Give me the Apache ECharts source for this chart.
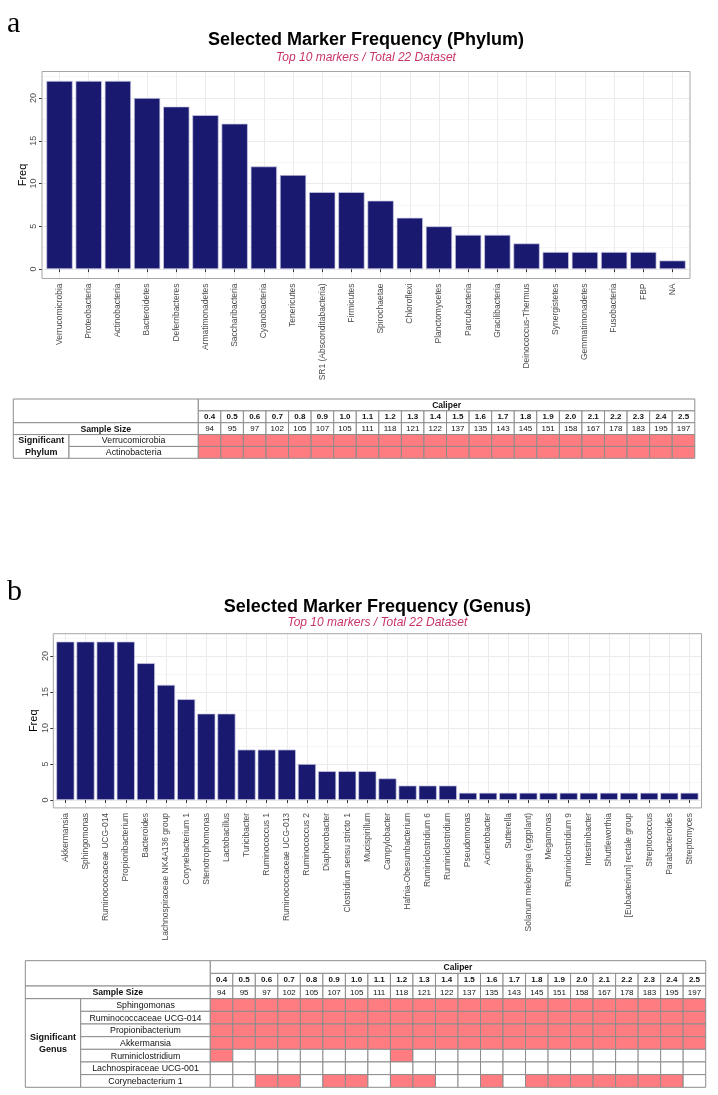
<!DOCTYPE html>
<html><head><meta charset="utf-8">
<script src="https://cdn.jsdelivr.net/npm/echarts@6/dist/echarts.min.js"></script>
<style>html,body{margin:0;padding:0;background:#fff}#c{width:718px;height:1095px}</style>
</head><body><div id="c"></div>
<script>
// ---------- data ----------
const phylumNames = ['Verrucomicrobia','Proteobacteria','Actinobacteria','Bacteroidetes','Deferribacteres','Armatimonadetes','Saccharibacteria','Cyanobacteria','Tenericutes','SR1 (Absconditabacteria)','Firmicutes','Spirochaetae','Chloroflexi','Planctomycetes','Parcubacteria','Gracilibacteria','Deinococcus-Thermus','Synergistetes','Gemmatimonadetes','Fusobacteria','FBP','NA'];
const phylumFreq = [22,22,22,20,19,18,17,12,11,9,9,8,6,5,4,4,3,2,2,2,2,1];
const genusNames = ['Akkermansia','Sphingomonas','Ruminococcaceae UCG-014','Propionibacterium','Bacteroides','Lachnospiraceae NK4A136 group','Corynebacterium 1','Stenotrophomonas','Lactobacillus','Turicibacter','Ruminococcus 1','Ruminococcaceae UCG-013','Ruminococcus 2','Diaphorobacter','Clostridium sensu stricto 1','Mucispirillum','Campylobacter','Hafnia-Obesumbacterium','Ruminiclostridium 6','Ruminiclostridium','Pseudomonas','Acinetobacter','Sutterella','Solanum melongena (eggplant)','Megamonas','Ruminiclostridium 9','Intestinibacter','Shuttleworthia','[Eubacterium] rectale group','Streptococcus','Parabacteroides','Streptomyces'];
const genusFreq = [22,22,22,22,19,16,14,12,12,7,7,7,5,4,4,4,3,2,2,2,1,1,1,1,1,1,1,1,1,1,1,1];
const yTicks = [0,5,10,15,20];
const calipers = ['0.4','0.5','0.6','0.7','0.8','0.9','1.0','1.1','1.2','1.3','1.4','1.5','1.6','1.7','1.8','1.9','2.0','2.1','2.2','2.3','2.4','2.5'];
const sampleSizes = [94,95,97,102,105,107,105,111,118,121,122,137,135,143,145,151,158,167,178,183,195,197];
const phylumSigNames = ['Verrucomicrobia','Actinobacteria'];
const phylumSig = [
  [1,1,1,1,1,1,1,1,1,1,1,1,1,1,1,1,1,1,1,1,1,1],
  [1,1,1,1,1,1,1,1,1,1,1,1,1,1,1,1,1,1,1,1,1,1]
];
const genusSigNames = ['Sphingomonas','Ruminococcaceae UCG-014','Propionibacterium','Akkermansia','Ruminiclostridium','Lachnospiraceae UCG-001','Corynebacterium 1'];
const genusSig = [
  [1,1,1,1,1,1,1,1,1,1,1,1,1,1,1,1,1,1,1,1,1,1],
  [1,1,1,1,1,1,1,1,1,1,1,1,1,1,1,1,1,1,1,1,1,1],
  [1,1,1,1,1,1,1,1,1,1,1,1,1,1,1,1,1,1,1,1,1,1],
  [1,1,1,1,1,1,1,1,1,1,1,1,1,1,1,1,1,1,1,1,1,1],
  [1,0,0,0,0,0,0,0,1,0,0,0,0,0,0,0,0,0,0,0,0,0],
  [0,0,0,0,0,0,0,0,0,0,0,0,0,0,0,0,0,0,0,0,0,0],
  [0,0,1,1,0,1,1,0,1,1,0,0,1,0,1,1,1,1,1,1,1,0]
];

// ---------- layout / style ----------
const FONT = 'Liberation Sans';
const NAVY = '#191970';
const PINK = '#ff7c80';
const LINE = '#8c8c8c';
const FA = {left: 42, top: 71.5, width: 648, height: 207};
const FB = {left: 53.3, top: 633.7, width: 648.2, height: 174.2};
function barGrid(F, n) {
  const u = F.width / (n - 1 + 1.2);
  return {left: F.left + 0.1 * u, top: F.top, width: n * u, height: F.height};
}
const BA = barGrid(FA, phylumNames.length);
const BB = barGrid(FB, genusNames.length);
const TA = {left: 198.3, top: 399, width: 496.5, height: 59.3, labelW: 129.3, groupW: 55.7};
const TB = {left: 210.3, top: 960.7, width: 495.4, height: 126.6, labelW: 129.6, groupW: 55.4};

function frameGrid(F) {
  return Object.assign({show: true, borderColor: '#a6a6a6', borderWidth: 1, backgroundColor: 'transparent', z: 5,
    containLabel: false, outerBoundsMode: 'none'}, {left: F.left, top: F.top, width: F.width, height: F.height});
}
function plainGrid(B) {
  return Object.assign({show: false, containLabel: false, outerBoundsMode: 'none'}, {left: B.left, top: B.top, width: B.width, height: B.height});
}

function frameY(gi, margin) {
  return {
    gridIndex: gi, type: 'value', min: -1.1, max: 23.1, splitNumber: 5,
    name: 'Freq', nameLocation: 'middle', nameGap: 14, nameRotate: 90, nameMoveOverlap: false,
    nameTextStyle: {fontSize: 11, color: '#000', fontFamily: FONT},
    axisLine: {show: false},
    axisTick: {show: true, length: 3, lineStyle: {color: '#333'}, customValues: yTicks},
    axisLabel: {show: true, customValues: yTicks, rotate: 90, align: 'center', verticalAlign: 'bottom', margin: margin,
      fontSize: 9, color: '#4d4d4d', fontFamily: FONT,
      formatter: v => (yTicks.indexOf(v) >= 0 ? String(v) : '')},
    splitLine: {show: true, lineStyle: {color: '#ebebeb', width: 1}},
    minorTick: {show: false, splitNumber: 2},
    minorSplitLine: {show: true, lineStyle: {color: '#f4f4f4', width: 0.8}}
  };
}
function hiddenY(gi) {
  return {gridIndex: gi, type: 'value', min: -1.1, max: 23.1, show: false, splitLine: {show: false}};
}
function barX(gi, names) {
  return {
    gridIndex: gi, type: 'category', data: names, boundaryGap: true,
    axisLine: {show: false},
    axisTick: {show: true, alignWithLabel: true, length: 3, lineStyle: {color: '#333'}},
    axisLabel: {show: true, interval: 0, rotate: 90, fontSize: 8.5, color: '#4d4d4d', margin: 5, fontFamily: FONT, hideOverlap: false},
    splitLine: {show: true, alignWithLabel: true, interval: 0, lineStyle: {color: '#ebebeb', width: 1}}
  };
}

// ---------- tables ----------
function buildTable(sigNames, sig, groupText) {
  const cells = [];
  const last = 3 + sigNames.length - 1;
  cells.push({c0: 'GL', r0: 0, r1: 1, text: ''});
  cells.push({c0: 0, c1: calipers.length - 1, r0: 0, r1: 0, text: 'Caliper', bold: true, size: 8.5});
  calipers.forEach((c, i) => cells.push({c0: i, c1: i, r0: 1, r1: 1, text: c, bold: true, size: 8}));
  cells.push({c0: 'GL', r0: 2, r1: 2, text: 'Sample Size', bold: true, size: 8.7});
  sampleSizes.forEach((s, i) => cells.push({c0: i, c1: i, r0: 2, r1: 2, text: String(s), size: 8}));
  cells.push({c0: 'G', r0: 3, r1: last, text: groupText, bold: true, size: 9});
  sigNames.forEach((n, k) => {
    cells.push({c0: 'L', r0: 3 + k, r1: 3 + k, text: n, size: 8.8});
    sig[k].forEach((v, i) => cells.push({c0: i, c1: i, r0: 3 + k, r1: 3 + k, text: '', fill: v ? PINK : '#fff'}));
  });
  return cells;
}
function rowKeys(sigNames) { return ['Caliper', 'Caliper value', 'Sample Size'].concat(sigNames); }

function makeRender(cells, T) {
  return function (params, api) {
    const cell = cells[params.dataIndex];
    const cs = params.coordSys;
    const sz = api.size([1, 1]);
    const w = Math.abs(sz[0]), h = Math.abs(sz[1]);
    const y0 = api.coord([0, cell.r0])[1] - h / 2;
    const y1 = api.coord([0, cell.r1])[1] + h / 2;
    let x0, x1;
    if (cell.c0 === 'GL') { x0 = cs.x - T.labelW - T.groupW; x1 = cs.x; }
    else if (cell.c0 === 'G') { x0 = cs.x - T.labelW - T.groupW; x1 = cs.x - T.labelW; }
    else if (cell.c0 === 'L') { x0 = cs.x - T.labelW; x1 = cs.x; }
    else { x0 = api.coord([cell.c0, 0])[0] - w / 2; x1 = api.coord([cell.c1, 0])[0] + w / 2; }
    const children = [{
      type: 'rect', shape: {x: x0, y: y0, width: x1 - x0, height: y1 - y0},
      style: {fill: cell.fill || '#fff', stroke: LINE, lineWidth: 1}
    }];
    if (cell.text) {
      children.push({
        type: 'text',
        style: {text: cell.text, x: (x0 + x1) / 2, y: (y0 + y1) / 2 + 0.5, align: 'center', verticalAlign: 'middle',
          fontSize: cell.size, fontWeight: cell.bold ? 'bold' : 'normal', fontFamily: FONT, fill: '#111', lineHeight: 12}
      });
    }
    return {type: 'group', children: children};
  };
}
const cellsA = buildTable(phylumSigNames, phylumSig, 'Significant\nPhylum');
const cellsB = buildTable(genusSigNames, genusSig, 'Significant\nGenus');
function cellData(cells) { return cells.map(c => [typeof c.c0 === 'number' ? c.c0 : 0, c.r0]); }

const titleText = {fontFamily: FONT, fontSize: 18, fontWeight: 'bold', color: '#000'};
const subText = {fontFamily: FONT, fontSize: 12, fontStyle: 'italic', fontWeight: 'normal', color: '#c8336a'};
const panelText = {fontFamily: 'Liberation Serif', fontSize: 30, fontWeight: 'normal', color: '#000'};

const option = {
  animation: false,
  backgroundColor: '#fff',
  textStyle: {fontFamily: FONT},
  title: [
    {text: 'a', left: 7, top: 9, padding: 0, textStyle: panelText},
    {text: 'Selected Marker Frequency (Phylum)', left: FA.left + FA.width / 2, top: 31, textAlign: 'center', padding: 0, textStyle: titleText},
    {text: 'Top 10 markers / Total 22 Dataset', left: FA.left + FA.width / 2, top: 52, textAlign: 'center', padding: 0, textStyle: subText},
    {text: 'b', left: 7, top: 577, padding: 0, textStyle: panelText},
    {text: 'Selected Marker Frequency (Genus)', left: FB.left + FB.width / 2, top: 598, textAlign: 'center', padding: 0, textStyle: titleText},
    {text: 'Top 10 markers / Total 22 Dataset', left: FB.left + FB.width / 2, top: 617, textAlign: 'center', padding: 0, textStyle: subText}
  ],
  grid: [
    frameGrid(FA), plainGrid(BA), frameGrid(FB), plainGrid(BB),
    plainGrid(TA), plainGrid(TB)
  ],
  xAxis: [
    {gridIndex: 0, type: 'value', min: 0, max: 1, show: false, splitLine: {show: false}},
    barX(1, phylumNames),
    {gridIndex: 2, type: 'value', min: 0, max: 1, show: false, splitLine: {show: false}},
    barX(3, genusNames),
    {gridIndex: 4, type: 'category', data: calipers, show: false},
    {gridIndex: 5, type: 'category', data: calipers, show: false}
  ],
  yAxis: [
    frameY(0, 4), hiddenY(1), frameY(2, 3), hiddenY(3),
    {gridIndex: 4, type: 'category', data: rowKeys(phylumSigNames), inverse: true, show: false},
    {gridIndex: 5, type: 'category', data: rowKeys(genusSigNames), inverse: true, show: false}
  ],
  series: [
    {type: 'bar', xAxisIndex: 1, yAxisIndex: 1, data: phylumFreq, barWidth: '90%',
      itemStyle: {color: NAVY, borderColor: '#cfcfe6', borderWidth: 0.7}, z: 2},
    {type: 'bar', xAxisIndex: 3, yAxisIndex: 3, data: genusFreq, barWidth: '90%',
      itemStyle: {color: NAVY, borderColor: '#cfcfe6', borderWidth: 0.7}, z: 2},
    {type: 'custom', xAxisIndex: 4, yAxisIndex: 4, data: cellData(cellsA), encode: {x: 0, y: 1},
      renderItem: makeRender(cellsA, TA), clip: false, silent: true},
    {type: 'custom', xAxisIndex: 5, yAxisIndex: 5, data: cellData(cellsB), encode: {x: 0, y: 1},
      renderItem: makeRender(cellsB, TB), clip: false, silent: true}
  ]
};
const chart = echarts.init(document.getElementById('c'), null, {renderer: 'canvas'});
chart.setOption(option);
</script>
</body></html>
